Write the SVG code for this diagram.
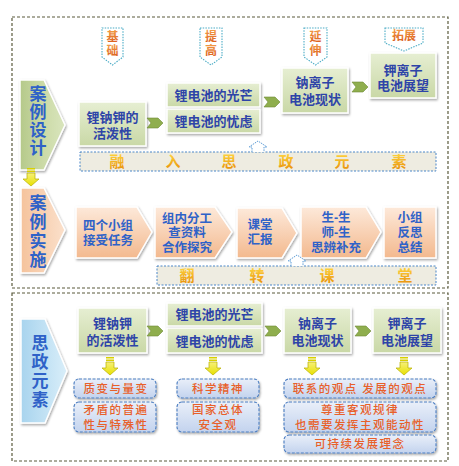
<svg xmlns="http://www.w3.org/2000/svg" width="459" height="466" viewBox="0 0 459 466">
<defs>
<linearGradient id="gGreen" x1="0" y1="0" x2="0" y2="1"><stop offset="0" stop-color="#e6eed2"/><stop offset="1" stop-color="#c9d8a6"/></linearGradient>
<linearGradient id="gGreenL" x1="0" y1="0" x2="1" y2="0"><stop offset="0" stop-color="#b5c98a"/><stop offset="0.5" stop-color="#cbdaa6"/><stop offset="1" stop-color="#d9e5bd"/></linearGradient>
<linearGradient id="gOrange" x1="0" y1="0" x2="0" y2="1"><stop offset="0" stop-color="#fde9da"/><stop offset="1" stop-color="#f3b98e"/></linearGradient>
<linearGradient id="gOrangeL" x1="0" y1="0" x2="1" y2="0"><stop offset="0" stop-color="#f5c39c"/><stop offset="1" stop-color="#fbe0cb"/></linearGradient>
<linearGradient id="gBlueL" x1="0" y1="0" x2="1" y2="0"><stop offset="0" stop-color="#a8d4ee"/><stop offset="1" stop-color="#d9eef9"/></linearGradient>
<linearGradient id="gBox" x1="0" y1="0" x2="0" y2="1"><stop offset="0" stop-color="#e9eff9"/><stop offset="1" stop-color="#c3d3ee"/></linearGradient>
<linearGradient id="gGold" x1="0" y1="0" x2="0" y2="1"><stop offset="0" stop-color="#ffd640"/><stop offset="1" stop-color="#e8900a"/></linearGradient>
<linearGradient id="gTag" x1="0" y1="0" x2="0" y2="1"><stop offset="0" stop-color="#f4a04a"/><stop offset="1" stop-color="#d9581a"/></linearGradient>
<linearGradient id="gYel" x1="0" y1="0" x2="0" y2="1"><stop offset="0" stop-color="#f6f07a"/><stop offset="1" stop-color="#e8e000"/></linearGradient>
<filter id="sh" x="-20%" y="-20%" width="140%" height="140%"><feDropShadow dx="1" dy="1.5" stdDeviation="1.2" flood-color="#000" flood-opacity="0.35"/></filter>
<g id="chev"><polygon points="0,-5 11,-5 16,0 11,5 0,5 4,0" fill="#8fae4e" stroke="#6f8c36" stroke-width="0.6"/></g>
<g id="down"><rect x="-4" y="0" width="8" height="1.5" fill="#d8d000"/><rect x="-4" y="2.5" width="8" height="1.5" fill="#d8d000"/><path d="M-4,5 H4 V11 H8 L0,18 L-8,11 H-4 Z" fill="url(#gYel)" stroke="#b8b000" stroke-width="0.7"/></g>
<g id="up"><path d="M-6,10 V5 H-9 L0,-1 L9,5 H6 V10" fill="#fff" stroke="#5b9bd5" stroke-width="1" stroke-dasharray="1.5,1"/></g>
</defs>
<style>
.frame{fill:none;stroke:#5a5a3c;stroke-width:1.2;stroke-dasharray:3,2}
.gn{fill:url(#gGreen);stroke:#fff;stroke-width:1.5;filter:url(#sh)}
.on{fill:url(#gOrange);stroke:#fff;stroke-width:1.5;filter:url(#sh)}
.tg{fill:#fff;stroke:#4bacc6;stroke-width:1.1;stroke-dasharray:1.5,1.2}
.bn{fill:#eeece1;stroke:#4a86c8;stroke-width:1;stroke-dasharray:2,1.5}
.bx{fill:url(#gBox);stroke:#4a7cc0;stroke-width:1.1;stroke-dasharray:3,1.5;filter:url(#sh)}
text{font-family:"Liberation Sans","Noto Sans CJK SC",sans-serif;text-anchor:middle;dominant-baseline:central}
.t1{font-size:13px;font-weight:bold;fill:#2e44a8}
.t2{font-size:12.5px;font-weight:bold;fill:#2f62c8}
.tl{font-size:17px;font-weight:bold;fill:#2f62c8}
.tb{font-size:15px;font-weight:bold;fill:url(#gGold)}
.tt{font-size:12px;font-weight:bold;fill:url(#gTag)}
.tx{font-size:11.5px;font-weight:500;fill:#e8602a;letter-spacing:1.5px}
</style>
<rect x="0" y="0" width="459" height="466" fill="#fff"/>
<rect class="frame" x="12" y="17" width="436" height="271"/>
<rect class="frame" x="12" y="293" width="436" height="168"/>

<g id="tag1"><polygon class="tg" points="102,28 123,28 123,57 112.5,65 102,57"/><text class="tt" x="112.5" y="37">基</text><text class="tt" x="112.5" y="51">础</text></g>
<g id="tag2"><polygon class="tg" points="200,28 222,28 222,57 211,65 200,57"/><text class="tt" x="211" y="37">提</text><text class="tt" x="211" y="51">高</text></g>
<g id="tag3"><polygon class="tg" points="304,28 327,28 327,57 315.5,65 304,57"/><text class="tt" x="315.5" y="37">延</text><text class="tt" x="315.5" y="51">伸</text></g>
<g id="tag4"><polygon class="tg" points="385,28 423,28 423,43 404,51 385,43"/><text class="tt" x="404" y="36">拓展</text></g>

<g id="lab1"><polygon points="20,80 44,80 65,125 44,170 20,170" fill="url(#gGreenL)" stroke="#fff" stroke-width="1.5" filter="url(#sh)"/>
<text class="tl" x="38" y="94">案</text><text class="tl" x="38" y="112">例</text><text class="tl" x="38" y="130">设</text><text class="tl" x="38" y="148">计</text></g>
<g id="lab2"><polygon points="21,188 44,188 65,230 44,273 21,273" fill="url(#gOrangeL)" stroke="#fff" stroke-width="1.5" filter="url(#sh)"/>
<text class="tl" x="38" y="203">案</text><text class="tl" x="38" y="222">例</text><text class="tl" x="38" y="241">实</text><text class="tl" x="38" y="260">施</text></g>
<g id="lab3"><polygon points="21,319 45,319 67,371 45,423 21,423" fill="url(#gBlueL)" stroke="#fff" stroke-width="1.5" filter="url(#sh)"/>
<text class="tl" x="40" y="343">思</text><text class="tl" x="40" y="362">政</text><text class="tl" x="40" y="381">元</text><text class="tl" x="40" y="400">素</text></g>

<g id="n1"><rect class="gn" x="79" y="102" width="67" height="44"/><text class="t1" x="112.5" y="117">锂钠钾的</text><text class="t1" x="112.5" y="133">活泼性</text></g>
<g id="n2"><rect class="gn" x="167" y="83" width="93" height="24"/><text class="t1" x="213.5" y="95">锂电池的光芒</text></g>
<g id="n3"><rect class="gn" x="167" y="109" width="93" height="24"/><text class="t1" x="213.5" y="121">锂电池的忧虑</text></g>
<g id="n4"><rect class="gn" x="282" y="68" width="66" height="45"/><text class="t1" x="315" y="82">钠离子</text><text class="t1" x="315" y="99">电池现状</text></g>
<g id="n5"><rect class="gn" x="370" y="53" width="66" height="45"/><text class="t1" x="403" y="70">钾离子</text><text class="t1" x="403" y="85">电池展望</text></g>

<g id="b1"><rect class="bn" x="80" y="152" width="356" height="19"/>
<text class="tb" x="117" y="161.5">融</text><text class="tb" x="173" y="161.5">入</text><text class="tb" x="229" y="161.5">思</text><text class="tb" x="286" y="161.5">政</text><text class="tb" x="342" y="161.5">元</text><text class="tb" x="399" y="161.5">素</text></g>

<g id="m1"><polygon class="on" points="76,207 137,207 152,232 137,258 76,258"/><text class="t2" x="108" y="226">四个小组</text><text class="t2" x="108" y="241">接受任务</text></g>
<g id="m2"><polygon class="on" points="155,207 215,207 232,232 215,258 155,258"/><text class="t2" x="187" y="219">组内分工</text><text class="t2" x="187" y="233">查资料</text><text class="t2" x="187" y="248">合作探究</text></g>
<g id="m3"><polygon class="on" points="237,208 282,208 297,233 282,258 237,258"/><text class="t2" x="260" y="225">课堂</text><text class="t2" x="260" y="240">汇报</text></g>
<g id="m4"><polygon class="on" points="301,207 366,207 381,232 366,258 301,258"/><text class="t2" x="336" y="218">生-生</text><text class="t2" x="336" y="233">师-生</text><text class="t2" x="336" y="248">思辨补充</text></g>
<g id="m5"><rect class="on" x="384" y="207" width="52" height="51"/><text class="t2" x="410" y="218">小组</text><text class="t2" x="410" y="233">反思</text><text class="t2" x="410" y="248">总结</text></g>

<g id="b2"><rect class="bn" x="157" y="266" width="279" height="19"/>
<text class="tb" x="187" y="275.5">翻</text><text class="tb" x="257" y="275.5">转</text><text class="tb" x="327" y="275.5">课</text><text class="tb" x="405" y="275.5">堂</text></g>

<g id="p1"><rect class="gn" x="78" y="308" width="69" height="45"/><text class="t1" x="112.5" y="323">锂钠钾</text><text class="t1" x="112.5" y="340">的活泼性</text></g>
<g id="p2"><rect class="gn" x="167" y="303" width="95" height="23"/><text class="t1" x="214.5" y="314.5">锂电池的光芒</text></g>
<g id="p3"><rect class="gn" x="167" y="328" width="95" height="25"/><text class="t1" x="214.5" y="341">锂电池的忧虑</text></g>
<g id="p4"><rect class="gn" x="284" y="308" width="67" height="45"/><text class="t1" x="317.5" y="323">钠离子</text><text class="t1" x="317.5" y="340">电池现状</text></g>
<g id="p5"><rect class="gn" x="373" y="308" width="68" height="45"/><text class="t1" x="407" y="323">钾离子</text><text class="t1" x="407" y="340">电池展望</text></g>

<g id="q1"><rect class="bx" x="74" y="379" width="82" height="19" rx="5"/><text class="tx" x="116" y="388.5">质变与量变</text></g>
<g id="q2"><rect class="bx" x="74" y="402" width="82" height="30" rx="5"/><text class="tx" x="116" y="409.5">矛盾的普遍</text><text class="tx" x="116" y="424.5">性与特殊性</text></g>
<g id="q3"><rect class="bx" x="177" y="379" width="82" height="19" rx="5"/><text class="tx" x="218" y="388.5">科学精神</text></g>
<g id="q4"><rect class="bx" x="177" y="402" width="82" height="30" rx="5"/><text class="tx" x="218" y="409.5">国家总体</text><text class="tx" x="218" y="424.5">安全观</text></g>
<g id="q5"><rect class="bx" x="284" y="379" width="152" height="19" rx="5"/><text class="tx" x="360" y="388.5">联系的观点 发展的观点</text></g>
<g id="q6"><rect class="bx" x="284" y="402" width="152" height="30" rx="5"/><text class="tx" x="360" y="409.5">尊重客观规律</text><text class="tx" x="360" y="424.5">也需要发挥主观能动性</text></g>
<g id="q7"><rect class="bx" x="284" y="435" width="152" height="18" rx="5"/><text class="tx" x="360" y="444">可持续发展理念</text></g>

<g id="connectors">
<use href="#chev" x="147" y="123"/>
<use href="#chev" x="264" y="102"/>
<use href="#chev" x="352" y="87"/>
<use href="#chev" x="147" y="331"/>
<use href="#chev" x="265" y="331"/>
<use href="#chev" x="355" y="331"/>
<use href="#up" x="258" y="142"/>
<use href="#up" x="297" y="256"/>
<use href="#down" x="31" y="168"/>
<use href="#down" x="110" y="357"/>
<use href="#down" x="213" y="357"/>
<use href="#down" x="312" y="357"/>
<use href="#down" x="404" y="357"/>
</g>
</svg>
